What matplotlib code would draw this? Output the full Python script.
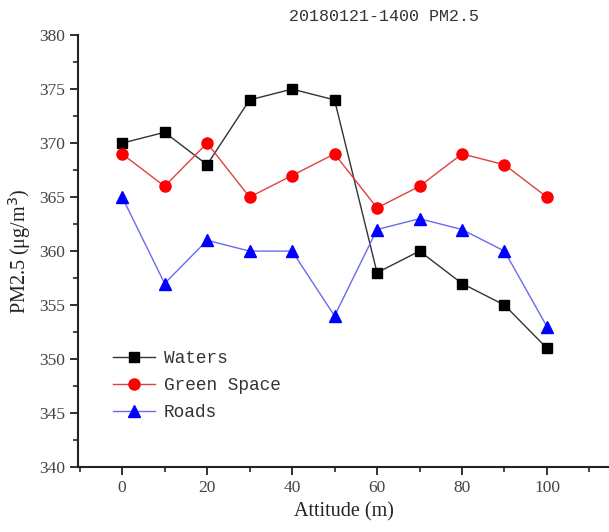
import matplotlib
matplotlib.use("Agg")
import matplotlib.pyplot as plt
from matplotlib.ticker import MultipleLocator

# Data
altitude = [0, 10, 20, 30, 40, 50, 60, 70, 80, 90, 100]
waters = [370, 371, 368, 374, 375, 374, 358, 360, 357, 355, 351]
green_space = [369, 366, 370, 365, 367, 369, 364, 366, 369, 368, 365]
roads = [365, 357, 361, 360, 360, 354, 362, 363, 362, 360, 353]

fig = plt.figure(figsize=(6.09, 5.32), dpi=100)
ax = fig.add_axes([0.128, 0.122, 0.872, 0.812])

ax.plot(altitude, waters, color="#333333", lw=1.0, marker="s", ms=7,
        mfc="black", mec="black", label="Waters")
ax.plot(altitude, green_space, color="#e04040", lw=1.0, marker="o", ms=8,
        mfc="red", mec="red", label="Green Space")
ax.plot(altitude, roads, color="#6a6af0", lw=1.0, marker="^", ms=8,
        mfc="blue", mec="blue", label="Roads")

ax.set_xlim(-10.4, 114.6)
ax.set_ylim(340, 380)
ax.xaxis.set_major_locator(MultipleLocator(20))
ax.xaxis.set_minor_locator(MultipleLocator(10))
ax.yaxis.set_major_locator(MultipleLocator(5))
ax.yaxis.set_minor_locator(MultipleLocator(2.5))

for s in ["top", "right"]:
    ax.spines[s].set_visible(False)
for s in ["left", "bottom"]:
    ax.spines[s].set_linewidth(1.5)
    ax.spines[s].set_color("#222222")

ax.tick_params(which="major", direction="out", length=6, width=1.3, colors="#222222")
ax.tick_params(which="minor", direction="out", length=3.5, width=1.2, colors="#222222")
ax.tick_params(labelsize=12.5, labelcolor="#444444")
for lbl in ax.get_xticklabels() + ax.get_yticklabels():
    lbl.set_family("Liberation Serif")

ax.set_xlabel("Attitude (m)", fontsize=14.5, family="Liberation Serif", color="#222222")
ax.set_ylabel("PM2.5 (μg/m$^3$)", fontsize=14.5, family="Liberation Serif", color="#222222")
ax.set_title("20180121-1400 PM2.5", fontsize=12, family="Liberation Mono",
             color="#333333", x=0.576, pad=10)

leg = ax.legend(loc="lower left", bbox_to_anchor=(0.035, 0.07), frameon=False,
                prop={"family": "Liberation Mono", "size": 12.8},
                handlelength=2.4, handletextpad=0.5, labelspacing=0.55)
for t in leg.get_texts():
    t.set_color("#333333")

fig.savefig("out.png", dpi=100)
